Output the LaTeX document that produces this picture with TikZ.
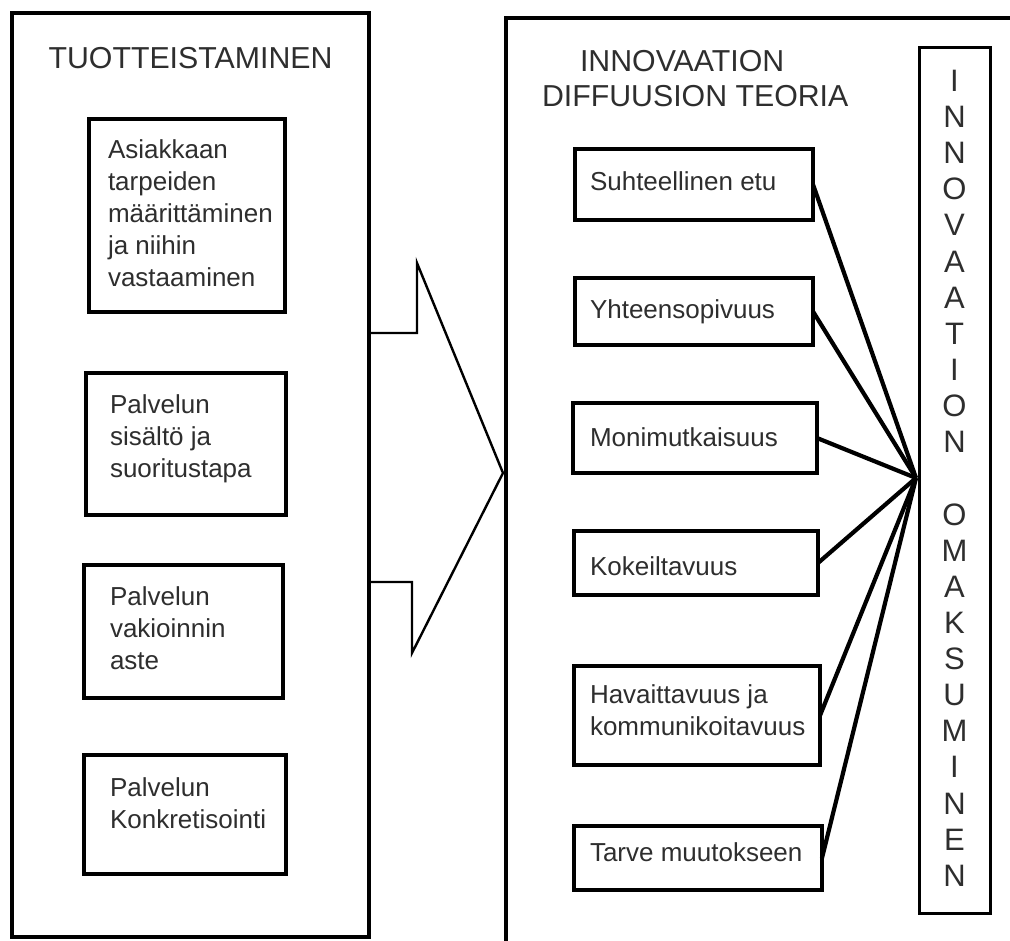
\documentclass[tikz,border=0pt]{standalone}
\usepackage{fontspec}
\setmainfont{Liberation Sans}
\definecolor{ink}{gray}{0.18}
\begin{document}
\begin{tikzpicture}[x=1pt,y=-1pt,
  outerbox/.style={draw, line width=4.2pt, inner sep=0pt, outer sep=0pt},
  box/.style={draw, line width=3.2pt, inner sep=0pt, outer sep=0pt},
  vbox/.style={draw, line width=3pt, inner sep=0pt, outer sep=0pt},
  txt/.style={inner sep=0pt, outer sep=0pt, anchor=north west, align=left, text=ink, font=\fontsize{26}{32}\selectfont},
  titletxt/.style={inner sep=0pt, outer sep=0pt, text=ink, font=\fontsize{30.3}{35}\selectfont},
  conn/.style={line width=4.2pt},
  bigarrow/.style={line width=2.4pt, line join=miter}]
\useasboundingbox (0,0) rectangle (1010,941);
\fill[white] (0,0) rectangle (1010,941);
\clip (0,0) rectangle (1010,941);

% outer frames
\node[outerbox, minimum width=357pt, minimum height=924pt] (lo) at (190.5,475) {};
\node[outerbox, minimum width=534pt, minimum height=962pt] (ro) at (773,499) {};

% titles
\node[titletxt, anchor=north] (tl) at (190.5,47) {TUOTTEISTAMINEN};
\node[titletxt, anchor=north west, align=left] (tr) at (542,50) {\hspace*{38pt}INNOVAATION\\DIFFUUSION TEORIA};

% left boxes
\node[box, minimum width=196pt, minimum height=193pt] (b1) at (187,215.5) {};
\node[box, minimum width=200pt, minimum height=142pt] (b2) at (186,444) {};
\node[box, minimum width=199pt, minimum height=133pt] (b3) at (183.5,631.5) {};
\node[box, minimum width=202pt, minimum height=119pt] (b4) at (185,814.5) {};

\node[txt] (t1) at ([xshift=19pt,yshift=-21pt]b1.north west) {Asiakkaan\\tarpeiden\\määrittäminen\\ja niihin\\vastaaminen};
\node[txt] (t2) at ([xshift=24pt,yshift=-22pt]b2.north west) {Palvelun\\sisältö ja\\suoritustapa};
\node[txt] (t3) at ([xshift=26pt,yshift=-22pt]b3.north west) {Palvelun\\vakioinnin\\aste};
\node[txt] (t4) at ([xshift=26pt,yshift=-23pt]b4.north west) {Palvelun\\Konkretisointi};

% big arrow
\draw[bigarrow] (369,333) -- (417,333) -- (417,263) -- (503,473) -- (412,653) -- (412,582) -- (369,582);

% right boxes
\node[box, minimum width=238pt, minimum height=71pt] (s1) at (694,184.5) {};
\node[box, minimum width=238pt, minimum height=67pt] (s2) at (694,311.5) {};
\node[box, minimum width=244pt, minimum height=70pt] (s3) at (695,438) {};
\node[box, minimum width=244pt, minimum height=64pt] (s4) at (696,563) {};
\node[box, minimum width=246pt, minimum height=99pt] (s5) at (697,715.5) {};
\node[box, minimum width=248pt, minimum height=64pt] (s6) at (698,858) {};

\node[txt] (u1) at ([xshift=15pt,yshift=-23pt]s1.north west) {Suhteellinen etu};
\node[txt] (u2) at ([xshift=15pt,yshift=-22pt]s2.north west) {Yhteensopivuus};
\node[txt] (u3) at ([xshift=17pt,yshift=-25pt]s3.north west) {Monimutkaisuus};
\node[txt] (u4) at ([xshift=16pt,yshift=-26pt]s4.north west) {Kokeiltavuus};
\node[txt] (u5) at ([xshift=16pt,yshift=-19pt]s5.north west) {Havaittavuus ja\\kommunikoitavuus};
\node[txt] (u6) at ([xshift=16pt,yshift=-17pt]s6.north west) {Tarve muutokseen};

% vertical box
\node[vbox, minimum width=71pt, minimum height=865pt] (v) at (954.5,480.5) {};
\node[inner sep=0pt, outer sep=0pt, anchor=north, align=center, text=ink, font=\fontsize{31}{36.14}\selectfont] (vt) at (954.5,70)
  {I\\N\\N\\O\\V\\A\\A\\T\\I\\O\\N\\[36.14pt]O\\M\\A\\K\\S\\U\\M\\I\\N\\E\\N};

% connectors
\coordinate (conv) at (916,478);
\foreach \s in {s1,s2,s3,s4,s5,s6}
  \draw[conn] (\s.east) -- (conv);
\end{tikzpicture}
\end{document}
